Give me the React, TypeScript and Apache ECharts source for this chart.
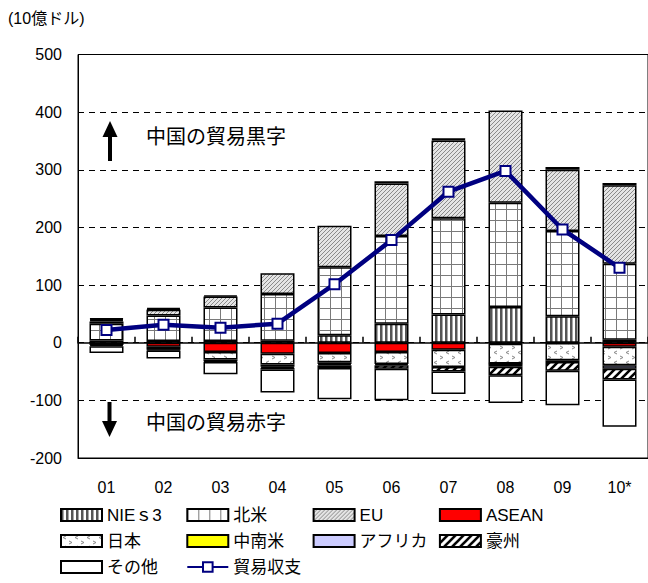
import React, { useEffect, useRef } from "react";
import * as echarts from "echarts";

// ---- data (10億ドル) ----
const years = ["01", "02", "03", "04", "05", "06", "07", "08", "09", "10*"];
const nies3 = [4, 3, 3, 3.5, 13, 33, 49, 62, 46, 5];
const northAmerica = [29, 44, 58, 81, 118, 152, 167, 181, 148, 132];
const eu = [4, 10, 19, 36, 72, 91, 135, 160, 106, 136];
const asean = [-4, -7, -16, -19, -18, -16, -12, -2, -0.5, -7];
const japan = [2, -5, -13, -19, -16, -21, -30, -34, -30, -32];
const latinAmerica = [2, 1.5, -3, -3.5, -3, 4, 2, -0.5, -3, 4];
const africa = [1.5, 2, 2, -2, -2, -2, 1, -5, 5, -6];
const australia = [-2, -1.5, -1.5, -3, -5, -6, -8, -15, -15, -19];
const others = [-12, -14, -21, -40, -54, -55, -39, -48, -60, -82];
const balance = [22, 31, 26, 33, 101.5, 178, 262, 298, 196.5, 130];

const barNames = ["NIEｓ3", "北米", "EU", "ASEAN", "日本", "中南米", "アフリカ", "豪州", "その他"];
const lineName = "貿易収支";
const yMin = -200;
const yMax = 500;
const yInterval = 100;

const FONT = "'Liberation Sans', Arial, 'Noto Sans CJK JP', sans-serif";

function tile(w: number, h: number, draw: (ctx: CanvasRenderingContext2D) => void) {
  const c = document.createElement("canvas");
  c.width = w;
  c.height = h;
  const ctx = c.getContext("2d") as CanvasRenderingContext2D;
  draw(ctx);
  return { image: c.toDataURL(), repeat: "repeat", imageWidth: w, imageHeight: h };
}

function buildFills() {
  const stripes = tile(5, 5, (ctx) => {
    ctx.fillStyle = "#fff";
    ctx.fillRect(0, 0, 5, 5);
    ctx.fillStyle = "#555";
    ctx.fillRect(0, 0, 2, 5);
    ctx.fillStyle = "#a8a8a8";
    ctx.fillRect(2, 0, 1, 5);
  });
  const grid = tile(11, 11, (ctx) => {
    ctx.fillStyle = "#fff";
    ctx.fillRect(0, 0, 11, 11);
    ctx.fillStyle = "#7a7a7a";
    ctx.fillRect(0, 0, 11, 1);
    ctx.fillRect(0, 0, 1, 11);
  });
  const hatch = tile(4, 4, (ctx) => {
    ctx.fillStyle = "#e4e4e4";
    ctx.fillRect(0, 0, 4, 4);
    ctx.strokeStyle = "#8a8a8a";
    ctx.lineWidth = 1;
    ctx.beginPath();
    ctx.moveTo(0, 4);
    ctx.lineTo(4, 0);
    ctx.moveTo(-1, 1);
    ctx.lineTo(1, -1);
    ctx.moveTo(3, 5);
    ctx.lineTo(5, 3);
    ctx.stroke();
  });
  const dots = tile(12, 10, (ctx) => {
    ctx.fillStyle = "#fff";
    ctx.fillRect(0, 0, 12, 10);
    ctx.strokeStyle = "#888";
    ctx.lineWidth = 1;
    ctx.beginPath();
    ctx.moveTo(5, 1);
    ctx.lineTo(2, 2.5);
    ctx.lineTo(5, 4);
    ctx.moveTo(8, 6);
    ctx.lineTo(11, 7.5);
    ctx.lineTo(8, 9);
    ctx.stroke();
  });
  const bold = tile(8, 8, (ctx) => {
    ctx.fillStyle = "#fff";
    ctx.fillRect(0, 0, 8, 8);
    ctx.strokeStyle = "#000";
    ctx.lineWidth = 2.6;
    ctx.beginPath();
    ctx.moveTo(0, 8);
    ctx.lineTo(8, 0);
    ctx.moveTo(-4, 4);
    ctx.lineTo(4, -4);
    ctx.moveTo(4, 12);
    ctx.lineTo(12, 4);
    ctx.stroke();
  });
  return [stripes, grid, hatch, "#ff0000", dots, "#ffff00", "#ccccff", bold, "#ffffff"];
}

export default function App() {
  const ref = useRef<HTMLDivElement>(null);

  useEffect(() => {
    if (!ref.current) return;
    const chart = echarts.init(ref.current, undefined, { renderer: "svg" });
    const fills = buildFills();
    const barData = [nies3, northAmerica, eu, asean, japan, latinAmerica, africa, australia, others];

    const barSeries = barNames.map((name, i) => ({
      type: "bar",
      name,
      data: barData[i],
      stack: "total",
      barWidth: 34,
      xAxisIndex: 0,
      yAxisIndex: 0,
      itemStyle: { color: fills[i], borderColor: "#000", borderWidth: 1.5 },
      emphasis: { disabled: true },
      z: 2,
    }));

    const lineSeries = {
      type: "line",
      name: lineName,
      data: balance,
      xAxisIndex: 0,
      yAxisIndex: 0,
      symbol: "rect",
      symbolSize: 10,
      lineStyle: { color: "#000080", width: 4.5 },
      itemStyle: { color: "#ffffff", borderColor: "#000080", borderWidth: 2 },
      emphasis: { disabled: true },
      z: 5,
    };

    const allNames = [...barNames, lineName];
    const legends = allNames.map((name, i) => {
      const lg: any = {
        data: [name],
        left: 60 + (i % 4) * 126.3,
        top: 515 + Math.floor(i / 4) * 26 - 10,
        padding: 0,
        itemWidth: 41,
        itemHeight: 12,
        selectedMode: false,
        textStyle: { fontSize: 17, color: "#000", fontFamily: FONT, lineHeight: 20 },
      };
      if (name !== lineName) lg.icon = "rect";
      return lg;
    });

    chart.setOption({
      animation: false,
      textStyle: { fontFamily: FONT },
      grid: {
        left: 78,
        top: 54.5,
        width: 576,
        height: 403.5,
        show: true,
        borderColor: "#000",
        borderWidth: 1,
        backgroundColor: "transparent",
        containLabel: false,
      },
      legend: legends,
      xAxis: [
        {
          type: "category",
          data: years,
          position: "bottom",
          axisLine: { onZero: false, lineStyle: { color: "#000", width: 1 } },
          axisTick: { show: false },
          axisLabel: { color: "#000", fontSize: 16, margin: 21, fontFamily: FONT },
          splitLine: { show: false },
        },
        {
          type: "category",
          data: years,
          position: "top",
          axisLine: { show: true, onZero: true, lineStyle: { color: "#000", width: 1.5 } },
          axisTick: { show: true, inside: false, length: 6, lineStyle: { color: "#000", width: 1.5 } },
          axisLabel: { show: false },
          splitLine: { show: false },
        },
      ],
      yAxis: {
        type: "value",
        min: yMin,
        max: yMax,
        interval: yInterval,
        axisLine: { show: true, lineStyle: { color: "#000", width: 1 } },
        axisTick: { show: false },
        axisLabel: { color: "#000", fontSize: 16, margin: 16, fontFamily: FONT },
        splitLine: { show: true, lineStyle: { color: "#000", width: 1, type: [6, 5] } },
      },
      graphic: [
        {
          type: "text",
          x: 8,
          y: 18,
          style: { text: "(10億ドル)", fontSize: 16, fill: "#000", fontFamily: FONT, verticalAlign: "middle" },
        },
        { type: "rect", shape: { x: 108, y: 134, width: 4, height: 27 }, style: { fill: "#000" } },
        {
          type: "polygon",
          shape: { points: [[102.5, 137], [110, 121], [117.5, 137]] },
          style: { fill: "#000" },
        },
        {
          type: "text",
          x: 146,
          y: 137,
          style: { text: "中国の貿易黒字", fontSize: 20, fill: "#000", fontFamily: FONT, verticalAlign: "middle" },
        },
        { type: "rect", shape: { x: 107.5, y: 402, width: 4, height: 22 }, style: { fill: "#000" } },
        {
          type: "polygon",
          shape: { points: [[102, 421], [109.5, 437], [117, 421]] },
          style: { fill: "#000" },
        },
        {
          type: "text",
          x: 146,
          y: 423,
          style: { text: "中国の貿易赤字", fontSize: 20, fill: "#000", fontFamily: FONT, verticalAlign: "middle" },
        },
      ],
      series: [...barSeries, lineSeries],
    });

    return () => {
      chart.dispose();
    };
  }, []);

  return (
    <div
      ref={ref}
      style={{ position: "absolute", left: 0, top: 0, width: 648, height: 583, background: "#fff" }}
    />
  );
}
